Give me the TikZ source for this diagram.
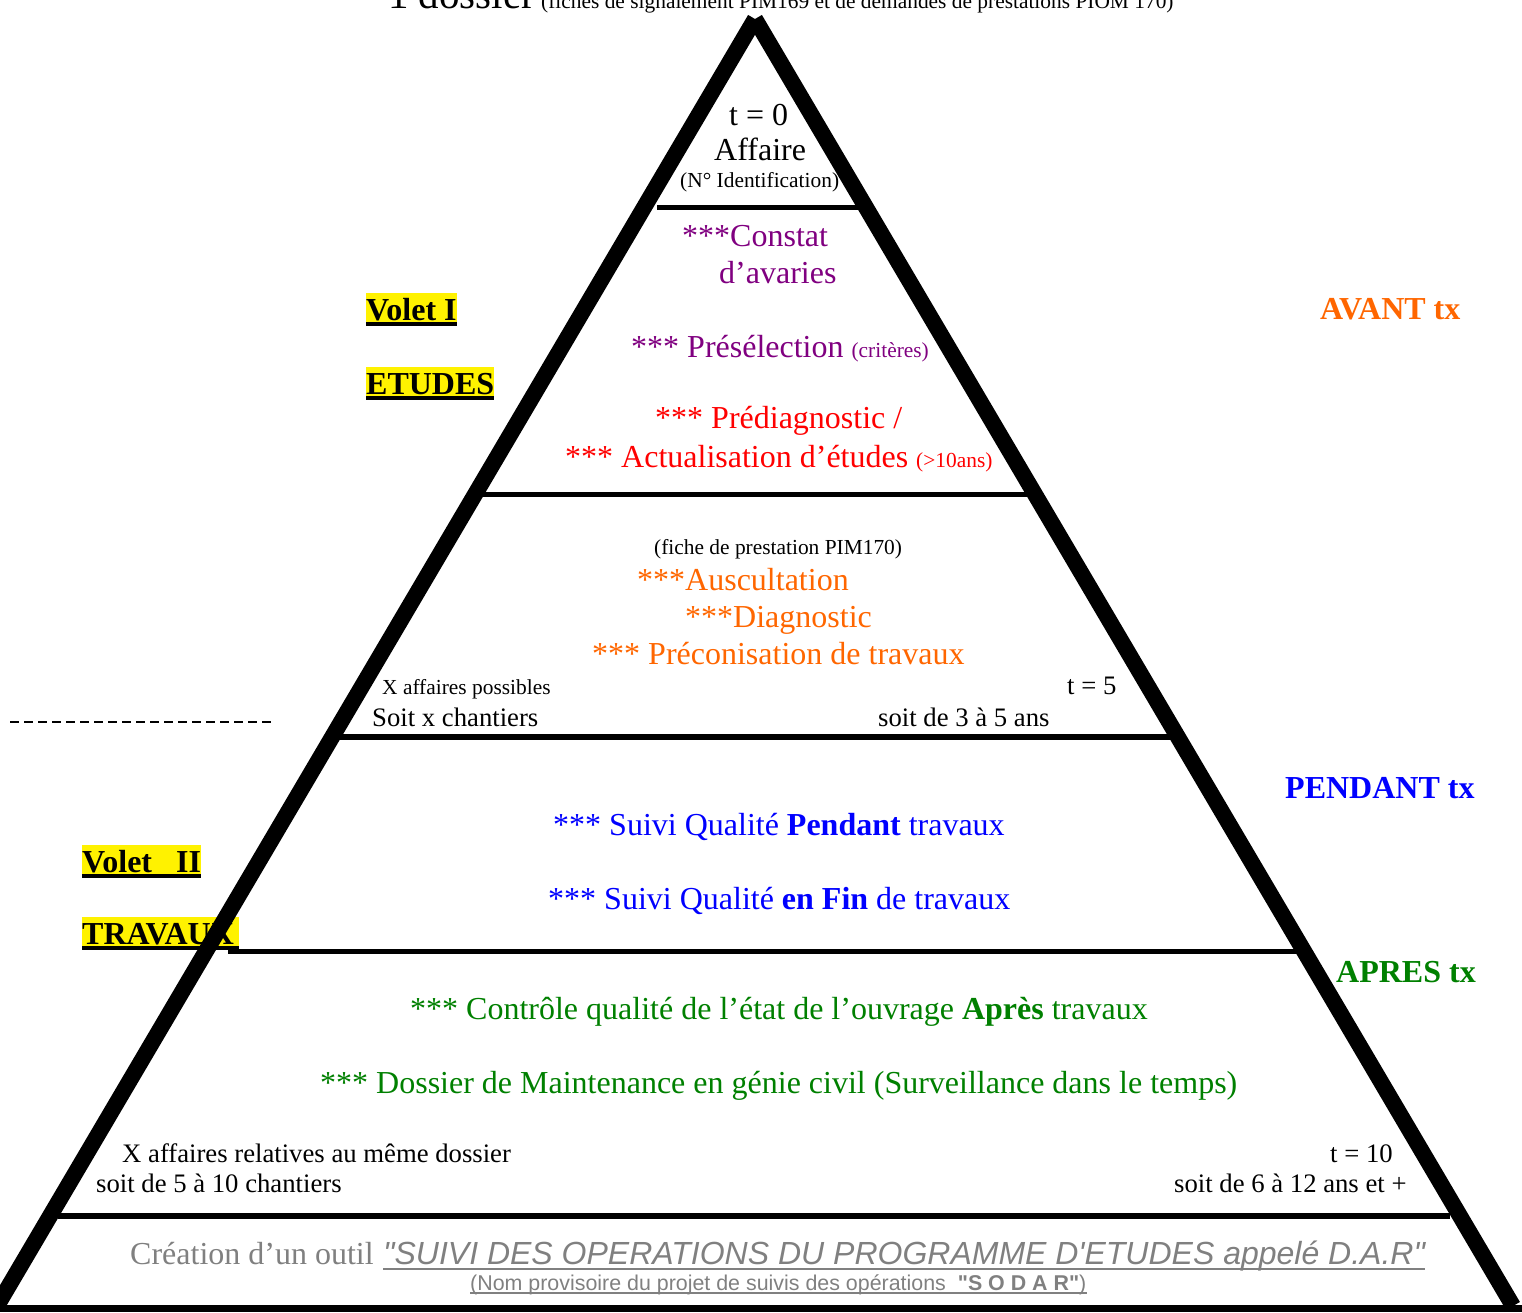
\documentclass[tikz,border=0pt]{standalone}
\usepackage{fontspec}
\setmainfont{Liberation Serif}
\newfontfamily\arialfont{Liberation Sans}
\usetikzlibrary{calc}

\definecolor{phaseorange}{RGB}{255,102,0}
\definecolor{phasepurple}{RGB}{128,0,128}
\definecolor{phasegreen}{RGB}{0,128,0}
\definecolor{notegray}{RGB}{128,128,128}

\tikzset{
  big/.style={font=\fontsize{32}{36}\selectfont,inner sep=0pt,anchor=base west},
  mid/.style={font=\fontsize{26.7}{30}\selectfont,inner sep=0pt,anchor=base west},
  small/.style={font=\fontsize{21.4}{24}\selectfont,inner sep=0pt,anchor=base west},
  volet/.style={font=\fontsize{32}{36}\selectfont\bfseries,fill=yellow,inner sep=0pt,
    text height=27pt,text depth=5pt,anchor=base west},
  phase/.style={font=\fontsize{32}{36}\selectfont\bfseries,inner sep=0pt,anchor=base west},
  floor/.style={line width=5pt},
  side/.style={line width=16pt}
}

\begin{document}
\begin{tikzpicture}[x=1pt,y=-1pt]
\useasboundingbox (0,0) rectangle (1522,1312);

% Title, cut by the top edge
\node (dossier) [font=\fontsize{41}{48}\selectfont,inner sep=0pt,anchor=base west] at (388,8) {1 dossier};
\node (fiches) [small] at (541,8) {(fiches de signalement PIM169 et de demandes de prestations PIOM 170)};

% Top: the file
\node (t0) [big] at (729,125) {t = 0};
\node (affaire) [big] at (714,160) {Affaire};
\node (ident) [small] at (680,187) {(N° Identification)};

% Volet I, first floor
\node (constat) [big,phasepurple] at (682,246) {***Constat};
\node (avaries) [big,phasepurple] at (719,283) {d’avaries};
\node (presel) [big,phasepurple] at (631,357) {*** Présélection {\fontsize{21.4}{24}\selectfont (critères)}};
\node (prediag) [big,red] at (655,428) {*** Prédiagnostic /};
\node (actual) [big,red] at (565,467) {*** Actualisation d’études {\fontsize{21.4}{24}\selectfont (>10ans)}};

% Volet I, second floor
\node (prest) [small] at (654,554) {(fiche de prestation PIM170)};
\node (auscult) [big,phaseorange] at (637,590) {***Auscultation};
\node (diag) [big,phaseorange] at (685,627) {***Diagnostic};
\node (precon) [big,phaseorange] at (592,664) {*** Préconisation de travaux};
\node (possibles) [small] at (382,694) {X affaires possibles};
\node (chantiers) [mid] at (372,726) {Soit x chantiers};
\node (t5) [mid] at (1067,694) {t = 5};
\node (ans5) [mid] at (878,726) {soit de 3 à 5 ans};

% Volet II, works
\node (pendant) [big,blue] at (553,835) {*** Suivi Qualité \textbf{Pendant} travaux};
\node (fin) [big,blue] at (548,909) {*** Suivi Qualité \textbf{en Fin} de travaux};

% After the works
\node (controle) [big,phasegreen] at (410,1019) {*** Contrôle qualité de l’état de l’ouvrage \textbf{Après} travaux};
\node (maint) [big,phasegreen] at (320,1093) {*** Dossier de Maintenance en génie civil (Surveillance dans le temps)};
\node (relatives) [mid] at (122,1162) {X affaires relatives au même dossier};
\node (chantiers10) [mid] at (96,1192) {soit de 5 à 10 chantiers};
\node (t10) [mid] at (1330,1162) {t = 10};
\node (ans12) [mid] at (1174,1192) {soit de 6 à 12 ans et +};

% The tool, at the foot
\node (creation) [big,notegray] at (130,1264) {Création d’un outil};
\node (sodar) [big,notegray,font=\fontsize{32}{36}\arialfont\itshape] at (383,1264)
  {"SUIVI DES OPERATIONS DU PROGRAMME D'ETUDES appelé D.A.R"};
\draw [notegray,line width=2.5pt] ([yshift=-5pt]sodar.base west) -- ([yshift=-5pt]sodar.base east);
\node (nom) [notegray,inner sep=0pt,anchor=base west,font=\fontsize{21.4}{24}\arialfont] at (470,1290)
  {(Nom provisoire du projet de suivis des opérations\ \ \textbf{"S O D A R"})};
\draw [notegray,line width=1.2pt] ([yshift=-3pt]nom.base west) -- ([yshift=-3pt]nom.base east);

% Volets, on the left
\node (voletI) [volet] at (366,320) {Volet I};
\node (etudes) [volet] at (366,394) {ETUDES};
\node (voletII) [volet] at (82,872) {Volet\ \ \ II};
\node (travaux) [volet] at (82,944) {TRAVAUX\,};
\foreach \v in {voletI,etudes,voletII,travaux}
  \draw [line width=3.5pt] ([yshift=-4pt]\v.base west) -- ([yshift=-4pt]\v.base east);
\draw [line width=2pt,dash pattern=on 9pt off 5pt] (10,722) -- (275,722);

% Phases, on the right
\node (avant) [phase,phaseorange] at (1320,319) {AVANT tx};
\node (pendanttx) [phase,blue] at (1285,798) {PENDANT tx};
\node (apres) [phase,phasegreen] at (1336,982) {APRES tx};

% Floors of the pyramid
\draw [floor] (657,207) -- (860,207);
\draw [floor] (480,494) -- (1030,494);
\draw [floor,line width=6pt] (333,737) -- (1175,737);
\draw [floor] (228,951) -- (1300,951);
\draw [floor,line width=6pt] (58,1216) -- (1450,1216);

% The pyramid itself, two strokes meeting at the top
\coordinate (apex) at (755,19);
\coordinate (baseL) at (-3,1306);
\coordinate (baseR) at (1513,1306);
\draw [side] (baseL) -- (apex);
\draw [side] (apex) -- (baseR);
\draw [line width=7pt] (0,1308) -- (1522,1308);
\end{tikzpicture}
\end{document}
